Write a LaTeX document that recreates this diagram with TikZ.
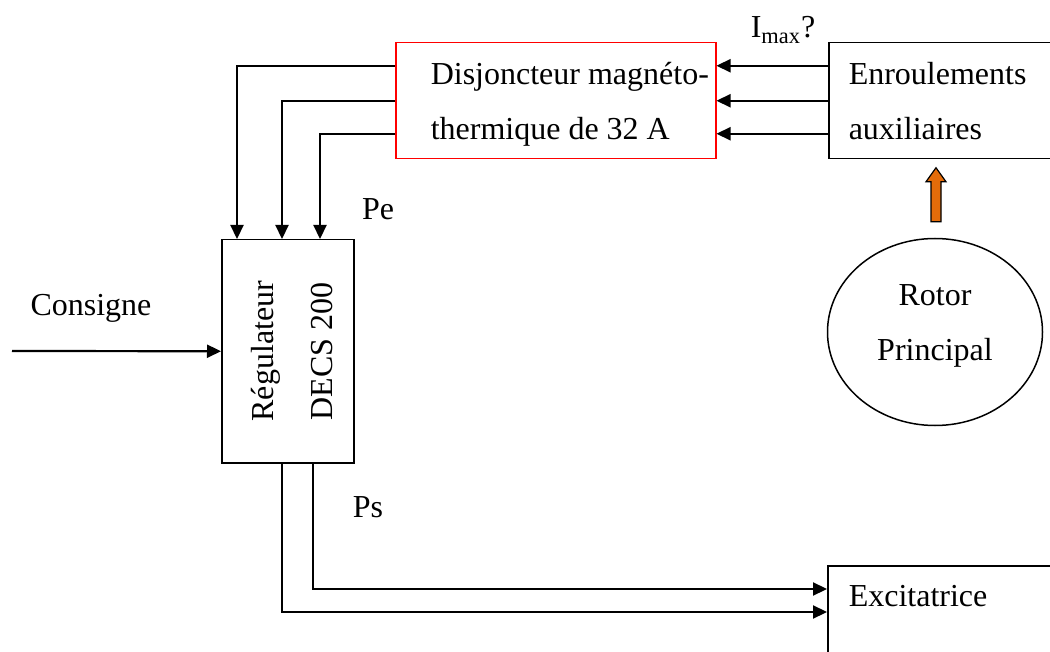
\documentclass[tikz,border=0pt]{standalone}
\usepackage{fontspec}
\setmainfont{Liberation Serif}
\usetikzlibrary{arrows.meta,calc,shapes.geometric}
\definecolor{rotorange}{RGB}{228,108,10}

\begin{document}
\begin{tikzpicture}[x=0.5pt,y=-0.5pt,line width=0.75pt,
    >={Triangle[length=7pt,width=6.5pt]},
    box/.style={draw,rectangle,anchor=north west,inner sep=0pt},
    lbl/.style={font=\fontsize{16}{27.5}\selectfont,align=left,inner sep=0pt},
    arr/.style={->,line width=1.1pt}]
  \useasboundingbox (0,0) rectangle (1050,652);

  % blocs
  \node[box,draw=red,minimum width=160pt,minimum height=58pt] (disj) at (395,42) {};
  \node[box,minimum width=125pt,minimum height=58pt] (enr) at (828,42) {};
  \node[box,minimum width=66pt,minimum height=111.5pt] (regul) at (221,239) {};
  \node[box,minimum width=125pt,minimum height=80pt] (excit) at (827,565) {};
  \node[draw,ellipse,minimum width=107.5pt,minimum height=93.5pt,inner sep=0pt] (rotor) at (935,332) {};

  % textes des blocs
  \node[lbl,anchor=west] (disjtxt) at ($(disj.west)+(35,4)$) {Disjoncteur magnéto-\\thermique de 32 A};
  \node[lbl,anchor=west] (enrtxt) at ($(enr.west)+(20,0)$) {Enroulements\\auxiliaires};
  \node[lbl,anchor=west] (excittxt) at ($(excit.north west)+(21,31)$) {Excitatrice};
  \node[lbl,align=center,rotate=90] (regultxt) at ($(regul.center)+(4,0)$) {Régulateur\\[2pt]DECS 200};
  \node[lbl,align=center] (rotortxt) at ($(rotor.center)+(0,-6)$) {Rotor\\Principal};

  % etiquettes
  \node[lbl] (imax) at (783,30) {I\textsubscript{max}?};
  \node[lbl] (pe) at (378,209) {Pe};
  \node[lbl] (ps) at (368,507) {Ps};
  \node[lbl] (consigne) at (91,308) {Consigne};

  % liaisons
  \foreach \dy in {-35,0,33}
    \draw[arr] ($(enr.west)+(0,\dy)$) -- ($(disj.east)+(0,\dy)$);
  \foreach \dy/\dx in {-35/16,0/61,33/99}
    \draw[arr] ($(disj.west)+(0,\dy)$) -| ($(regul.north west)+(\dx,0)$);
  \coordinate (cons) at (12,351);
  \draw[arr] (cons) -- (regul.west);
  \draw[arr] ($(regul.south west)+(92,0)$) |- ($(excit.north west)+(0,24)$);
  \draw[arr] ($(regul.south west)+(61,0)$) |- ($(excit.north west)+(0,47)$);

  % fleche rotor -> enroulements
  \coordinate (tail) at ($(rotor.north)+(1,-16)$);
  \draw[fill=rotorange,line width=0.6pt] (tail) ++(-5,0) -- ++(0,-40) -- ++(-5,0)
    -- ++(10,-14) -- ++(10,14) -- ++(-5,0) -- ++(0,40) -- cycle;
\end{tikzpicture}
\end{document}
